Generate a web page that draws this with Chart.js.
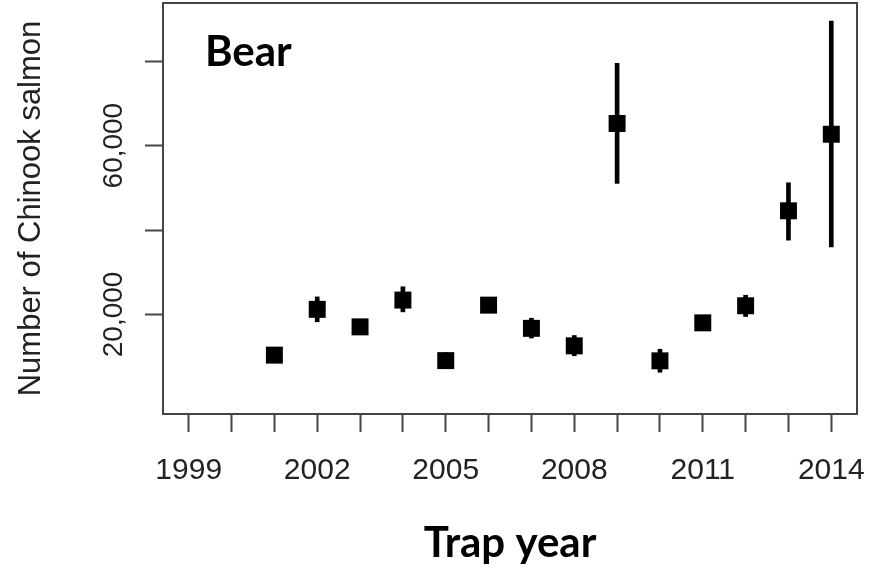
<!DOCTYPE html>
<html>
<head>
<meta charset="utf-8">
<script src="https://cdn.jsdelivr.net/npm/chart.js@4/dist/chart.umd.min.js"></script>
<style>
  html, body { margin: 0; padding: 0; background: #fff; }
  #wrap { width: 889px; height: 577px; }
</style>
</head>
<body>
<div id="wrap"><canvas id="c" width="889" height="577"></canvas></div>
<script>
// Bear trap: estimated Chinook salmon passage per trap year, with interval bounds
const years     = [2001, 2002, 2003, 2004, 2005, 2006, 2007, 2008, 2009, 2010, 2011, 2012, 2013, 2014];
const estimate  = [10350, 21200, 17050, 23400, 9050, 22200, 16700, 12550, 65250, 9000, 18000, 22050, 44550, 62700];
const lowerCI   = [8900, 18250, 15600, 20600, 7200, 20700, 14400, 10200, 51050, 6300, 16400, 19500, 37600, 36000];
const upperCI   = [11800, 24150, 18500, 26550, 10900, 23700, 19100, 15000, 79500, 11750, 19600, 24550, 51200, 89500];

// axis ticks
const xTickYears  = [1999, 2000, 2001, 2002, 2003, 2004, 2005, 2006, 2007, 2008, 2009, 2010, 2011, 2012, 2013, 2014];
const xLabelYears = [1999, 2002, 2005, 2008, 2011, 2014];
const yTickValues = [20000, 40000, 60000, 80000];
const yLabelValues = [20000, 60000];

const panelName = 'Bear';

const fmt = v => v.toLocaleString('en-US');

// box around the plotting region, rotated y tick labels and the panel name
const framePlugin = {
  id: 'frame',
  afterDraw(chart) {
    const { ctx, chartArea: a, scales } = chart;
    ctx.save();
    ctx.strokeStyle = '#444';
    ctx.lineWidth = 2;
    ctx.strokeRect(a.left, a.top, a.right - a.left, a.bottom - a.top);

    ctx.fillStyle = '#222';
    ctx.font = '28px "Liberation Sans", Arial, sans-serif';
    ctx.textAlign = 'center';
    ctx.textBaseline = 'alphabetic';
    yLabelValues.forEach(v => {
      const py = scales.y.getPixelForValue(v);
      ctx.save();
      ctx.translate(122, py);
      ctx.rotate(-Math.PI / 2);
      ctx.fillText(fmt(v), 0, 0);
      ctx.restore();
    });

    ctx.fillStyle = '#000';
    ctx.font = 'bold 42px Lato, "Open Sans", sans-serif';
    ctx.textAlign = 'left';
    ctx.fillText(panelName, 205, 66);
    ctx.restore();
  }
};

const noPad = s => { s.paddingTop = 0; s.paddingBottom = 0; s.paddingLeft = 0; s.paddingRight = 0; };

new Chart(document.getElementById('c'), {
  type: 'bar',
  data: {
    datasets: [
      {
        type: 'scatter',
        label: 'Estimate',
        data: years.map((x, i) => ({ x, y: estimate[i] })),
        pointStyle: 'rect',
        pointRadius: 12,
        pointBackgroundColor: '#000',
        pointBorderColor: '#000',
        pointBorderWidth: 0,
        order: 0
      },
      {
        type: 'bar',
        label: 'Interval',
        data: years.map((x, i) => ({ x, y: [lowerCI[i], upperCI[i]] })),
        backgroundColor: '#000',
        borderWidth: 0,
        barThickness: 4,
        order: 1
      }
    ]
  },
  options: {
    responsive: false,
    animation: false,
    layout: { autoPadding: false, padding: { left: 0, right: 32, top: 3, bottom: 0 } },
    plugins: { legend: { display: false }, tooltip: { enabled: false } },
    scales: {
      x: {
        type: 'linear',
        min: 1998.4,
        max: 2014.6,
        offset: false,
        afterBuildTicks: s => { s.ticks = xTickYears.map(v => ({ value: v })); },
        afterFit: s => { s.height = 163; noPad(s); },
        ticks: {
          autoSkip: false,
          maxRotation: 0,
          minRotation: 0,
          padding: 21,
          color: '#222',
          font: { family: '"Liberation Sans", Arial, sans-serif', size: 30 },
          callback: v => (xLabelYears.includes(v) ? String(v) : '')
        },
        grid: {
          display: true,
          drawOnChartArea: false,
          drawTicks: true,
          tickLength: 18,
          tickWidth: 2,
          tickColor: '#444',
          offset: false
        },
        border: { display: false },
        title: {
          display: true,
          text: 'Trap year',
          color: '#000',
          font: { family: 'Lato, "Open Sans", sans-serif', size: 42, weight: 'bold' },
          padding: { top: 0, bottom: 8 }
        }
      },
      y: {
        type: 'linear',
        min: -3600,
        max: 93800,
        afterBuildTicks: s => { s.ticks = yTickValues.map(v => ({ value: v })); },
        afterFit: s => { s.width = 163; noPad(s); },
        ticks: { display: false },
        grid: {
          display: true,
          drawOnChartArea: false,
          drawTicks: true,
          tickLength: 18,
          tickWidth: 2,
          tickColor: '#444'
        },
        border: { display: false },
        title: {
          display: true,
          text: 'Number of Chinook salmon',
          color: '#222',
          font: { family: '"Liberation Sans", Arial, sans-serif', size: 31 },
          padding: { top: 13, bottom: 0 }
        }
      }
    }
  },
  plugins: [framePlugin]
});
</script>
</body>
</html>
